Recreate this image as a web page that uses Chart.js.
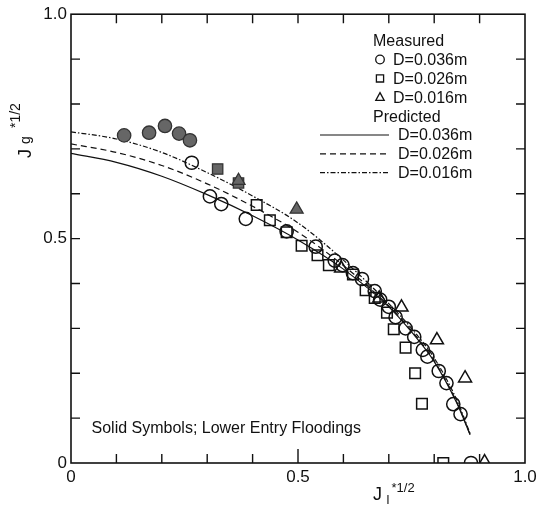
<!DOCTYPE html>
<html>
<head>
<meta charset="utf-8">
<script src="https://cdn.jsdelivr.net/npm/chart.js@4.4.0/dist/chart.umd.min.js"></script>
<style>
  html, body { margin: 0; padding: 0; background: #fff; }
</style>
</head>
<body>
<canvas id="chart" width="548" height="505"></canvas>
<script>
// measured flooding points, open symbols = upper entry
const circleX = [0.266, 0.306, 0.331, 0.385, 0.475, 0.539, 0.581, 0.598, 0.621, 0.641, 0.669, 0.681, 0.700, 0.715, 0.737, 0.756, 0.775, 0.785, 0.810, 0.827, 0.842, 0.858, 0.881];
const circleY = [0.669, 0.594, 0.577, 0.544, 0.516, 0.482, 0.451, 0.441, 0.423, 0.410, 0.383, 0.364, 0.348, 0.325, 0.300, 0.281, 0.252, 0.237, 0.205, 0.178, 0.131, 0.109, 0.0];
const squareX = [0.409, 0.438, 0.475, 0.508, 0.543, 0.568, 0.621, 0.649, 0.669, 0.696, 0.711, 0.737, 0.758, 0.773, 0.820];
const squareY = [0.575, 0.541, 0.514, 0.484, 0.463, 0.441, 0.420, 0.385, 0.368, 0.335, 0.298, 0.257, 0.200, 0.132, 0.0];
const triX = [0.595, 0.679, 0.728, 0.806, 0.868, 0.911];
const triY = [0.434, 0.367, 0.347, 0.274, 0.189, 0.002];

// solid symbols = lower entry
const solidCircleX = [0.117, 0.172, 0.207, 0.238, 0.262];
const solidCircleY = [0.730, 0.736, 0.751, 0.734, 0.719];
const solidSquareX = [0.323, 0.369];
const solidSquareY = [0.655, 0.624];
const solidTriX = [0.369, 0.497];
const solidTriY = [0.629, 0.565];

// predicted curves
const curveX = [0, 0.1, 0.2, 0.3, 0.4, 0.5, 0.6, 0.7, 0.75, 0.8, 0.85, 0.879];
const pred036 = [0.690, 0.670, 0.639, 0.598, 0.551, 0.497, 0.432, 0.348, 0.292, 0.226, 0.133, 0.063];
const pred026 = [0.711, 0.692, 0.663, 0.622, 0.572, 0.514, 0.440, 0.350, 0.295, 0.228, 0.135, 0.064];
const pred016 = [0.738, 0.722, 0.692, 0.647, 0.595, 0.535, 0.452, 0.355, 0.300, 0.234, 0.140, 0.066];

const axisLabels = { 0: "0", 5: "0.5", 10: "1.0" };
const legendSymbols = ["D=0.036m", "D=0.026m", "D=0.016m"];
const legendLines = ["D=0.036m", "D=0.026m", "D=0.016m"];
const noteText = "Solid Symbols; Lower Entry Floodings";

const INK = "#111";
const GREY = "#666";
const FONT = '"Liberation Sans", Arial, Helvetica, sans-serif';
const DASH = [6, 4];
const DASHDOT = [5, 2, 1.5, 2];

function pts(xs, ys) {
  return xs.map((x, i) => ({ x: x, y: ys[i] }));
}

function openSet(xs, ys, style, r) {
  return {
    type: "scatter",
    data: pts(xs, ys),
    pointStyle: style,
    pointRadius: r,
    pointBackgroundColor: "rgba(0,0,0,0)",
    pointBorderColor: INK,
    pointBorderWidth: 1.5,
  };
}

function solidSet(xs, ys, style, r) {
  return {
    type: "scatter",
    data: pts(xs, ys),
    pointStyle: style,
    pointRadius: r,
    pointBackgroundColor: GREY,
    pointBorderColor: "#333",
    pointBorderWidth: 1.3,
  };
}

function curveSet(ys, dash) {
  return {
    type: "line",
    data: pts(curveX, ys),
    borderColor: INK,
    borderWidth: 1.2,
    borderDash: dash,
    pointRadius: 0,
    fill: false,
    cubicInterpolationMode: "monotone",
  };
}

function drawSymbol(ctx, style, x, y, r) {
  ctx.beginPath();
  if (style === "circle") {
    ctx.arc(x, y, r, 0, Math.PI * 2);
  } else if (style === "rect") {
    ctx.rect(x - r, y - r, 2 * r, 2 * r);
  } else {
    ctx.moveTo(x, y - r * 1.1);
    ctx.lineTo(x + r, y + r * 0.75);
    ctx.lineTo(x - r, y + r * 0.75);
    ctx.closePath();
  }
  ctx.stroke();
}

// frame, inward ticks, legend, note and axis titles
const decorations = {
  id: "decorations",
  afterDraw(chart) {
    const ctx = chart.ctx;
    const a = chart.chartArea;
    const xs = chart.scales.x;
    const ys = chart.scales.y;
    ctx.save();
    ctx.strokeStyle = INK;
    ctx.fillStyle = INK;
    ctx.lineWidth = 1.6;
    ctx.setLineDash([]);
    ctx.strokeRect(a.left, a.top, a.right - a.left, a.bottom - a.top);

    ctx.lineWidth = 1.4;
    xs.ticks.forEach((t) => {
      if (t.value <= 0 || t.value >= 1) return;
      const px = xs.getPixelForValue(t.value);
      const len = Math.abs(t.value - 0.5) < 1e-6 ? 14 : 9;
      ctx.beginPath();
      ctx.moveTo(px, a.bottom);
      ctx.lineTo(px, a.bottom - len);
      ctx.moveTo(px, a.top);
      ctx.lineTo(px, a.top + 9);
      ctx.stroke();
    });
    ys.ticks.forEach((t) => {
      if (t.value <= 0 || t.value >= 1) return;
      const py = ys.getPixelForValue(t.value);
      ctx.beginPath();
      ctx.moveTo(a.left, py);
      ctx.lineTo(a.left + 9, py);
      ctx.moveTo(a.right, py);
      ctx.lineTo(a.right - 9, py);
      ctx.stroke();
    });

    // legend
    ctx.font = "16px " + FONT;
    ctx.textBaseline = "alphabetic";
    ctx.textAlign = "left";
    ctx.fillText("Measured", 373, 46);
    const styles = ["circle", "rect", "triangle"];
    const sizes = [4.3, 3.6, 4.2];
    ctx.lineWidth = 1.3;
    legendSymbols.forEach((label, i) => {
      const base = 65 + i * 18.9;
      drawSymbol(ctx, styles[i], 380, base - 5.5, sizes[i]);
      ctx.fillText(label, 393, base);
    });
    ctx.fillText("Predicted", 373, 121.7);
    const dashes = [[], DASH, DASHDOT];
    legendLines.forEach((label, i) => {
      const base = 140 + i * 18.8;
      ctx.lineWidth = 1.2;
      ctx.setLineDash(dashes[i]);
      ctx.beginPath();
      ctx.moveTo(320, base - 5);
      ctx.lineTo(389, base - 5);
      ctx.stroke();
      ctx.setLineDash([]);
      ctx.fillText(label, 398, base);
    });

    ctx.fillText(noteText, 91.5, 432.7);

    // x title J_l^{*1/2}
    ctx.font = "18px " + FONT;
    ctx.fillText("J", 373, 500);
    ctx.font = "13px " + FONT;
    ctx.fillText("l", 386.5, 504);
    ctx.fillText("*1/2", 391.5, 491.5);

    // y title J_g^{*1/2}
    ctx.translate(31, 158);
    ctx.rotate(-Math.PI / 2);
    ctx.font = "18px " + FONT;
    ctx.fillText("J", 0, 0);
    ctx.font = "14px " + FONT;
    ctx.fillText("g", 14, -1);
    ctx.fillText("*1/2", 30, -11);
    ctx.restore();
  },
};

function tickLabel(v) {
  const k = Math.round(v * 10);
  return Math.abs(v * 10 - k) < 1e-6 && axisLabels[k] !== undefined ? axisLabels[k] : "";
}

new Chart(document.getElementById("chart"), {
  type: "scatter",
  data: {
    datasets: [
      solidSet(solidCircleX, solidCircleY, "circle", 6.7),
      solidSet(solidTriX, solidTriY, "triangle", 7.5),
      solidSet(solidSquareX, solidSquareY, "rect", 7.3),
      openSet(circleX, circleY, "circle", 6.6),
      openSet(squareX, squareY, "rect", 7.5),
      openSet(triX, triY, "triangle", 7.5),
      curveSet(pred036, []),
      curveSet(pred026, DASH),
      curveSet(pred016, DASHDOT),
    ],
  },
  options: {
    responsive: false,
    animation: false,
    layout: { padding: { left: 0, top: 9, right: 23, bottom: 0 } },
    plugins: {
      legend: { display: false },
      tooltip: { enabled: false },
    },
    scales: {
      x: {
        type: "linear",
        min: 0,
        max: 1,
        afterFit: (s) => { s.height = 42; },
        grid: { display: false, drawTicks: false },
        border: { display: false },
        ticks: {
          stepSize: 0.1,
          autoSkip: false,
          maxRotation: 0,
          padding: 4,
          color: INK,
          font: { family: FONT, size: 17 },
          callback: tickLabel,
        },
      },
      y: {
        type: "linear",
        min: 0,
        max: 1,
        afterFit: (s) => { s.width = 71; },
        grid: { display: false, drawTicks: false },
        border: { display: false },
        ticks: {
          stepSize: 0.1,
          autoSkip: false,
          padding: 4,
          color: INK,
          font: { family: FONT, size: 17 },
          callback: tickLabel,
        },
      },
    },
  },
  plugins: [decorations],
});
</script>
</body>
</html>
